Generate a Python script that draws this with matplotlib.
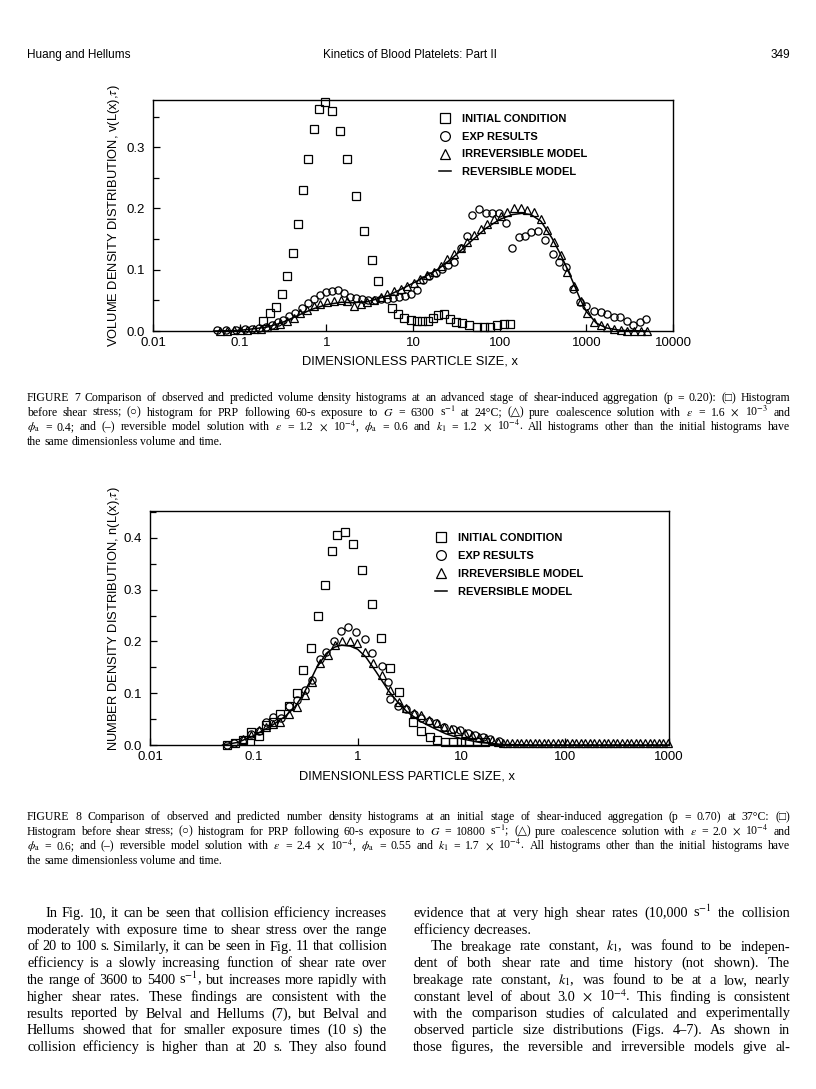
import numpy as np
import matplotlib.pyplot as plt
from matplotlib.transforms import Affine2D

W, H = 816, 1089

# ---------------- FIGURE 7 : volume density ----------------
sq7_x = [0.187, 0.224, 0.26, 0.305, 0.356, 0.408, 0.474, 0.542, 0.618, 0.72,
         0.822, 0.96, 1.17, 1.43, 1.74, 2.19, 2.71, 3.33, 3.97, 5.66,
         6.64, 7.9, 9.5, 11.0, 12.8, 14.8, 16.8, 19.3, 22.7, 26.7,
         31.2, 36.6, 44.5, 54.5, 65.9, 77.8, 93, 111, 133]
sq7_y = [0.017, 0.029, 0.039, 0.060, 0.090, 0.128, 0.175, 0.230, 0.281, 0.330,
         0.362, 0.374, 0.359, 0.327, 0.281, 0.221, 0.164, 0.116, 0.082, 0.038,
         0.028, 0.022, 0.018, 0.016, 0.016, 0.017, 0.022, 0.026, 0.027, 0.019,
         0.015, 0.0125, 0.010, 0.007, 0.007, 0.007, 0.010, 0.011, 0.011]

ci7_x = [0.055, 0.07, 0.09, 0.115, 0.14, 0.168, 0.2, 0.235, 0.275, 0.32,
         0.375, 0.44, 0.52, 0.61, 0.72, 0.85, 0.99, 1.16, 1.36, 1.6,
         1.88, 2.2, 2.6, 3.05, 3.6, 4.25, 5.0, 5.9, 6.9, 8.1,
         9.5, 11.2, 13.1, 15.5, 18.3, 21.6, 25.5, 30, 35.4, 41.5,
         48, 58, 69, 82, 99, 117, 140, 167, 196, 232,
         277, 335, 413, 485, 578, 700, 840, 1000, 1220, 1460,
         1740, 2070, 2470, 2940, 3500, 4170, 4900]
ci7_y = [0.001, 0.001, 0.002, 0.003, 0.004, 0.005, 0.007, 0.010, 0.014, 0.018,
         0.024, 0.030, 0.037, 0.045, 0.052, 0.058, 0.063, 0.066, 0.067, 0.062,
         0.056, 0.054, 0.052, 0.050, 0.050, 0.052, 0.053, 0.054, 0.056, 0.057,
         0.060, 0.067, 0.083, 0.089, 0.095, 0.101, 0.107, 0.113, 0.135, 0.155,
         0.189, 0.199, 0.193, 0.193, 0.193, 0.176, 0.135, 0.154, 0.155, 0.161,
         0.164, 0.148, 0.125, 0.113, 0.104, 0.068, 0.048, 0.040, 0.033, 0.031,
         0.028, 0.023, 0.023, 0.017, 0.010, 0.014, 0.020]

tr7_x = [0.06, 0.0716, 0.0855, 0.102, 0.122, 0.145, 0.174, 0.207, 0.247, 0.295,
         0.353, 0.421, 0.503, 0.6, 0.717, 0.856, 1.02, 1.22, 1.46, 1.74,
         2.08, 2.48, 2.96, 3.54, 4.22, 5.04, 6.02, 7.19, 8.58, 10.2,
         12.2, 14.6, 17.5, 20.8, 24.9, 29.7, 35.5, 42.3, 50.5, 60.4,
         72.1, 86, 103, 123, 146, 175, 209, 249, 298, 355,
         424, 507, 605, 722, 862, 1030, 1230, 1470, 1750, 2090,
         2500, 2980, 3560, 4250, 5070]
tr7_y = [0.000, 0.000, 0.001, 0.001, 0.002, 0.003, 0.004, 0.006, 0.009, 0.012,
         0.016, 0.022, 0.029, 0.034, 0.040, 0.044, 0.047, 0.049, 0.051, 0.049,
         0.041, 0.044, 0.047, 0.050, 0.056, 0.060, 0.065, 0.069, 0.074, 0.079,
         0.085, 0.091, 0.097, 0.106, 0.117, 0.126, 0.136, 0.146, 0.157, 0.166,
         0.175, 0.182, 0.188, 0.195, 0.201, 0.200, 0.198, 0.195, 0.182, 0.165,
         0.146, 0.124, 0.097, 0.073, 0.049, 0.029, 0.014, 0.009, 0.006, 0.004,
         0.001, 0.000, 0.000, 0.000, 0.000]

ln7_x = [0.05, 0.1, 0.2, 0.3, 0.5, 0.7, 1.0, 1.5, 2.0, 3.0, 5.0, 8.0, 12, 20, 30,
         50, 70, 100, 140, 180, 230, 300, 400, 500, 600, 700, 850, 1000, 1300,
         1700, 2500, 5000]
ln7_y = [0.0, 0.001, 0.006, 0.013, 0.027, 0.036, 0.043, 0.047, 0.046, 0.048,
         0.057, 0.071, 0.084, 0.102, 0.122, 0.150, 0.168, 0.182, 0.190, 0.192,
         0.190, 0.179, 0.152, 0.126, 0.102, 0.080, 0.052, 0.032, 0.013, 0.005,
         0.001, 0.0]

# ---------------- FIGURE 8 : number density ----------------
sq8_x = [0.055, 0.066, 0.078, 0.095, 0.112, 0.13, 0.153, 0.178, 0.218, 0.26,
         0.30, 0.358, 0.415, 0.48, 0.565, 0.635, 0.76, 0.91, 1.11, 1.38,
         1.69, 2.07, 2.5, 3.39, 4.06, 4.95, 5.83, 7.0, 8.3, 9.9,
         11.8, 14.0, 16.7]
sq8_y = [0.0, 0.003, 0.010, 0.026, 0.018, 0.038, 0.045, 0.059, 0.076, 0.101,
         0.144, 0.187, 0.249, 0.310, 0.374, 0.406, 0.412, 0.388, 0.338, 0.272,
         0.206, 0.148, 0.102, 0.044, 0.028, 0.016, 0.009, 0.006, 0.005, 0.005,
         0.005, 0.005, 0.005]

ci8_x = [0.055, 0.065, 0.078, 0.095, 0.113, 0.132, 0.153, 0.184, 0.22, 0.26,
         0.31, 0.366, 0.43, 0.50, 0.59, 0.69, 0.80, 0.97, 1.17, 1.39,
         1.70, 1.95, 2.05, 2.45, 2.9, 3.5, 4.1, 4.9, 5.7, 6.8,
         8.3, 9.7, 11.5, 13.5, 16, 19, 23]
ci8_y = [0.000, 0.003, 0.010, 0.022, 0.028, 0.045, 0.055, 0.052, 0.075, 0.087,
         0.106, 0.126, 0.166, 0.180, 0.200, 0.221, 0.228, 0.218, 0.204, 0.178,
         0.153, 0.122, 0.088, 0.075, 0.069, 0.060, 0.053, 0.047, 0.042, 0.034,
         0.030, 0.029, 0.024, 0.020, 0.015, 0.012, 0.008]

tr8_x = [0.079, 0.095, 0.112, 0.132, 0.153, 0.178, 0.216, 0.26, 0.31, 0.366,
         0.43, 0.52, 0.60, 0.71, 0.84, 0.99, 1.19, 1.42, 1.70, 2.05,
         2.5, 2.9, 3.5, 4.1, 4.9, 5.8, 6.8, 8.0, 9.3, 10.8,
         12.6, 14.7, 17.1, 19.9, 22.5, 25, 27.5, 30.5, 34, 37.5,
         41.5, 46, 51, 56.5, 62.5, 69, 76.5, 85, 94, 104,
         115, 127, 141, 156, 173, 191, 212, 234, 259, 287,
         318, 352, 390, 432, 478, 529, 586, 649, 718, 795,
         880, 975]
tr8_y = [0.011, 0.020, 0.029, 0.035, 0.041, 0.045, 0.059, 0.073, 0.097, 0.122,
         0.159, 0.174, 0.193, 0.200, 0.200, 0.197, 0.179, 0.159, 0.135, 0.107,
         0.084, 0.071, 0.061, 0.057, 0.048, 0.042, 0.035, 0.031, 0.028, 0.023,
         0.019, 0.016, 0.013, 0.010, 0.006, 0.004, 0.003, 0.003, 0.003, 0.003,
         0.003, 0.003, 0.003, 0.003, 0.003, 0.003, 0.003, 0.003, 0.003, 0.003,
         0.003, 0.003, 0.003, 0.003, 0.003, 0.003, 0.003, 0.003, 0.003, 0.003,
         0.003, 0.003, 0.003, 0.003, 0.003, 0.003, 0.003, 0.003, 0.003, 0.003,
         0.003, 0.003]

ln8_x = [0.05, 0.07, 0.1, 0.15, 0.2, 0.25, 0.3, 0.35, 0.4, 0.5, 0.6, 0.7, 0.85,
         1.0, 1.2, 1.5, 2.0, 2.5, 3.0, 4.0, 5.0, 7.0, 10, 15, 25, 50, 1000]
ln8_y = [0.0, 0.005, 0.018, 0.038, 0.055, 0.074, 0.098, 0.124, 0.148, 0.177,
         0.189, 0.193, 0.191, 0.185, 0.170, 0.142, 0.104, 0.080, 0.064, 0.046,
         0.036, 0.022, 0.012, 0.005, 0.001, 0.0, 0.0]

legend_labels = ["INITIAL CONDITION", "EXP RESULTS", "IRREVERSIBLE MODEL", "REVERSIBLE MODEL"]
x7_ticks = [0.01, 0.1, 1, 10, 100, 1000, 10000]
x8_ticks = [0.01, 0.1, 1, 10, 100, 1000]

# ---------------- page text ----------------
cap7 = [
    "FIGURE 7 Comparison of observed and predicted volume density histograms at an advanced stage of shear-induced aggregation (p = 0.20): (□) Histogram",
    r"before shear stress; (○) histogram for PRP following 60-s exposure to $G$ = 6300 s$^{-1}$ at 24°C; (△) pure coalescence solution with $\epsilon$ = 1.6 $\times$ 10$^{-3}$ and",
    r"$\phi_\mathrm{a}$ = 0.4; and (–) reversible model solution with $\epsilon$ = 1.2 $\times$ 10$^{-4}$, $\phi_\mathrm{a}$ = 0.6 and $k_1$ = 1.2 $\times$ 10$^{-4}$. All histograms other than the initial histograms have",
    "the same dimensionless volume and time.",
]
cap8 = [
    "FIGURE 8 Comparison of observed and predicted number density histograms at an initial stage of shear-induced aggregation (p = 0.70) at 37°C: (□)",
    r"Histogram before shear stress; (○) histogram for PRP following 60-s exposure to $G$ = 10800 s$^{-1}$; (△) pure coalescence solution with $\epsilon$ = 2.0 $\times$ 10$^{-4}$ and",
    r"$\phi_\mathrm{a}$ = 0.6; and (–) reversible model solution with $\epsilon$ = 2.4 $\times$ 10$^{-4}$, $\phi_\mathrm{a}$ = 0.55 and $k_1$ = 1.7 $\times$ 10$^{-4}$. All histograms other than the initial histograms have",
    "the same dimensionless volume and time.",
]
col_left = [
    "In Fig. 10, it can be seen that collision efficiency increases",
    "moderately with exposure time to shear stress over the range",
    "of 20 to 100 s. Similarly, it can be seen in Fig. 11 that collision",
    "efficiency is a slowly increasing function of shear rate over",
    "the range of 3600 to 5400 s$^{-1}$, but increases more rapidly with",
    "higher shear rates. These findings are consistent with the",
    "results reported by Belval and Hellums (7), but Belval and",
    "Hellums showed that for smaller exposure times (10 s) the",
    "collision efficiency is higher than at 20 s. They also found",
]
col_right = [
    "evidence that at very high shear rates (10,000 s$^{-1}$ the collision",
    "efficiency decreases.",
    "The breakage rate constant, $k_1$, was found to be indepen-",
    "dent of both shear rate and time history (not shown). The",
    "breakage rate constant, $k_1$, was found to be at a low, nearly",
    r"constant level of about 3.0 $\times$ 10$^{-4}$. This finding is consistent",
    "with the comparison studies of calculated and experimentally",
    "observed particle size distributions (Figs. 4–7). As shown in",
    "those figures, the reversible and irreversible models give al-",
]

plt.rcParams['mathtext.fontset'] = 'stix'
SANS = ['Liberation Sans', 'DejaVu Sans']
SERIF = ['Liberation Serif', 'DejaVu Serif']

fig = plt.figure(figsize=(W / 100, H / 100), dpi=100)
# pixel coords measured from the top-left corner of the page
page = Affine2D().scale(1 / W, -1 / H).translate(0, 1) + fig.transFigure


def box(l, t, r, b):
    return [l / W, 1 - b / H, (r - l) / W, (b - t) / H]


def panel(ax, sq, ci, tr, ln, xlim, ylim, xticks, ymax_tick, ylabel, legend_at):
    mk = dict(ls='none', mfc='none', mec='black', mew=0.9, ms=5.2, clip_on=False)
    ax.plot(*sq, marker='s', label=legend_labels[0], **mk)
    ax.plot(*ci, marker='o', label=legend_labels[1], **mk)
    ax.plot(*tr, marker='^', label=legend_labels[2], **mk)
    ax.plot(*ln, color='black', lw=1.1, label=legend_labels[3])
    ax.set_xscale('log')
    ax.set_xlim(*xlim)
    ax.set_ylim(*ylim)
    ax.set_xticks(xticks)
    ax.set_xticklabels(['%g' % t for t in xticks])
    ax.xaxis.set_minor_locator(plt.NullLocator())
    yt = np.arange(0, ymax_tick + 0.001, 0.1)
    ax.set_yticks(yt)
    ax.set_yticklabels(['%.1f' % t for t in yt])
    ax.set_yticks(np.arange(0.05, ylim[1], 0.1), minor=True)
    ax.tick_params(which='both', direction='in', top=False, right=False, width=0.9)
    ax.tick_params(which='major', length=5)
    ax.tick_params(which='minor', length=4)
    ax.tick_params(axis='y', pad=6)
    ax.tick_params(axis='x', pad=4)
    for lab in ax.get_xticklabels() + ax.get_yticklabels():
        lab.set_family(SANS)
        lab.set_fontsize(9.5)
    for s in ax.spines.values():
        s.set_linewidth(1.0)
    ax.set_xlabel("DIMENSIONLESS PARTICLE SIZE, x", family=SANS, fontsize=9.3, va='center')
    ax.xaxis.set_label_coords(0.495, -0.134)
    ax.set_ylabel(ylabel, family=SANS, fontsize=9.3, va='center')
    ax.yaxis.set_label_coords(-0.075, 0.5)
    ax.legend(loc='upper left', bbox_to_anchor=legend_at, frameon=False, markerscale=1.35,
              handlelength=1.1, handletextpad=1.0, labelspacing=0.7, borderpad=0,
              borderaxespad=0, prop=dict(family=SANS, size=8, weight='bold'))


ax7 = fig.add_axes(box(153, 100, 673, 331))
panel(ax7, (sq7_x, sq7_y), (ci7_x, ci7_y), (tr7_x, tr7_y), (ln7_x, ln7_y),
      (0.01, 10000), (0, 0.377), x7_ticks, 0.3,
      r"VOLUME DENSITY DISTRIBUTION, v(L(x),$\tau$)", (0.55, 0.94))

ax8 = fig.add_axes(box(150, 511, 669, 745))
panel(ax8, (sq8_x, sq8_y), (ci8_x, ci8_y), (tr8_x, tr8_y), (ln8_x, ln8_y),
      (0.01, 1000), (0, 0.452), x8_ticks, 0.4,
      r"NUMBER DENSITY DISTRIBUTION, n(L(x),$\tau$)", (0.549, 0.905))
ax8.yaxis.set_label_coords(-0.07, 0.54)

rend = fig.canvas.get_renderer()


def put_line(text, x0, x1, y, size, indent=0, justify=True):
    words = text.split()
    arts = [fig.text(0, 0, w, transform=page, fontsize=size, family=SERIF,
                     va='baseline', ha='left') for w in words]
    widths = [a.get_window_extent(rend).width for a in arts]
    space = size * 100 / 72 * 0.25
    avail = x1 - x0 - indent
    need = sum(widths) + space * 0.7 * (len(words) - 1)
    if justify and need > avail:
        f = avail / need
        for a in arts:
            a.set_fontsize(size * f)
        widths = [w * f for w in widths]
        space *= f
    if justify and len(words) > 1:
        gap = (avail - sum(widths)) / (len(words) - 1)
    else:
        gap = space
    x = x0 + indent
    for a, w in zip(arts, widths):
        a.set_position((x, y))
        x += w + gap


# running head
fig.text(27, 58, "Huang and Hellums", transform=page, family=SANS, fontsize=8.5)
fig.text(410, 58, "Kinetics of Blood Platelets: Part II", transform=page, family=SANS,
         fontsize=8.5, ha='center')
fig.text(790, 58, "349", transform=page, family=SANS, fontsize=8.5, ha='right')

for i, t in enumerate(cap7):
    put_line(t, 27, 790, 401 + 14.6 * i, 8.5, justify=(i < 3))
for i, t in enumerate(cap8):
    put_line(t, 27, 790, 820 + 14.6 * i, 8.5, justify=(i < 3))

for i, t in enumerate(col_left):
    put_line(t, 27, 387, 917 + 16.75 * i, 10.3, indent=(18 if i == 0 else 0))
for i, t in enumerate(col_right):
    put_line(t, 413, 790, 917 + 16.75 * i, 10.3, indent=(18 if i == 2 else 0),
             justify=(i != 1))

fig.savefig("out.png", dpi=100)
